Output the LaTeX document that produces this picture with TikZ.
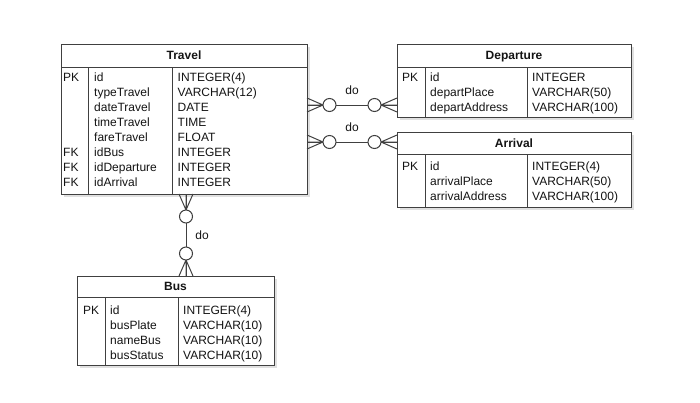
\documentclass[tikz,border=0pt]{standalone}
\usepackage{fontspec}
\setmainfont{Liberation Sans}
\usetikzlibrary{shadows}
\definecolor{LineClr}{RGB}{64,64,64}
\definecolor{TextClr}{RGB}{20,20,20}

\begin{document}
\begin{tikzpicture}[x=1pt,y=-1pt,
  entity/.style={draw=LineClr,line width=1pt,fill=white,inner sep=0,
    drop shadow={shadow xshift=3pt,shadow yshift=-3pt,opacity=.12,fill=black}},
  divider/.style={draw=LineClr,line width=1pt},
  entitytitle/.style={font=\bfseries\fontsize{12}{15.1}\selectfont,text=TextClr,inner sep=0,anchor=base},
  % multi-line cells sit on the baseline of their last line
  cell/.style={font=\fontsize{12}{15.1}\selectfont,text=TextClr,inner sep=0,anchor=base west,align=left},
  rel/.style={draw=LineClr,line width=1pt},
  lbl/.style={font=\fontsize{12}{15.1}\selectfont,text=TextClr,inner sep=0},
  zeromany/.pic={
    \draw[rel] (0,-7) -- (16,0) -- (0,7) (0,0) -- (16,0);
    \draw[rel,fill=white] (22.5,0) circle[radius=6.5pt];
  }]
\useasboundingbox (0,0) rectangle (700,402);

% Travel
\node[entity,minimum width=246pt,minimum height=150pt] (travel) at (184,119) {};
\draw[divider] (61,67) -- (307,67) (88,67) -- (88,194) (172,67) -- (172,194);
\node[entitytitle] (travelT) at (184,59) {Travel};
\node[cell] (travelPK) at (63,81) {PK};
\node[cell] (travelFK) at (63,186.7) {FK\\FK\\FK};
\node[cell] (travelN) at (94,186.7) {id\\typeTravel\\dateTravel\\timeTravel\\fareTravel\\idBus\\idDeparture\\idArrival};
\node[cell] (travelD) at (177.5,186.7) {INTEGER(4)\\VARCHAR(12)\\DATE\\TIME\\FLOAT\\INTEGER\\INTEGER\\INTEGER};

% Departure
\node[entity,minimum width=234pt,minimum height=73pt] (depart) at (514,80.5) {};
\draw[divider] (397,67) -- (631,67) (425,67) -- (425,117) (527,67) -- (527,117);
\node[entitytitle] (departT) at (514,59) {Departure};
\node[cell] (departPK) at (402,81.5) {PK};
\node[cell] (departN) at (430,111.7) {id\\departPlace\\departAddress};
\node[cell] (departD) at (532,111.7) {INTEGER\\VARCHAR(50)\\VARCHAR(100)};

% Arrival
\node[entity,minimum width=234pt,minimum height=75pt] (arrival) at (514,169.5) {};
\draw[divider] (397,154) -- (631,154) (425,154) -- (425,207) (527,154) -- (527,207);
\node[entitytitle] (arrivalT) at (514,147.5) {Arrival};
\node[cell] (arrivalPK) at (402,170) {PK};
\node[cell] (arrivalN) at (430,200.2) {id\\arrivalPlace\\arrivalAddress};
\node[cell] (arrivalD) at (532,200.2) {INTEGER(4)\\VARCHAR(50)\\VARCHAR(100)};

% Bus
\node[entity,minimum width=197pt,minimum height=89pt] (bus) at (175.5,320.5) {};
\draw[divider] (77,297) -- (274,297) (105,297) -- (105,365) (178,297) -- (178,365);
\node[entitytitle] (busT) at (175.5,290.5) {Bus};
\node[cell] (busPK) at (83,314) {PK};
\node[cell] (busN) at (110,359.3) {id\\busPlate\\nameBus\\busStatus};
\node[cell] (busD) at (183,359.3) {INTEGER(4)\\VARCHAR(10)\\VARCHAR(10)\\VARCHAR(10)};

% relations
\coordinate (trDep) at (307,105);
\coordinate (depTr) at (397,105);
\coordinate (trArr) at (307,142);
\coordinate (arrTr) at (397,142);
\coordinate (trBus) at (186,194);
\coordinate (busTr) at (186,276);

\draw[rel] (trDep) -- node[lbl,yshift=15pt] (doDep) {do} (depTr);
\draw[rel] (trArr) -- node[lbl,yshift=15pt] (doArr) {do} (arrTr);
\draw[rel] (trBus) -- node[lbl,xshift=16pt] (doBus) {do} (busTr);

\pic at (trDep) {zeromany};
\pic[rotate=180] at (depTr) {zeromany};
\pic at (trArr) {zeromany};
\pic[rotate=180] at (arrTr) {zeromany};
\pic[rotate=-90] at (trBus) {zeromany};
\pic[rotate=90] at (busTr) {zeromany};

\end{tikzpicture}
\end{document}
